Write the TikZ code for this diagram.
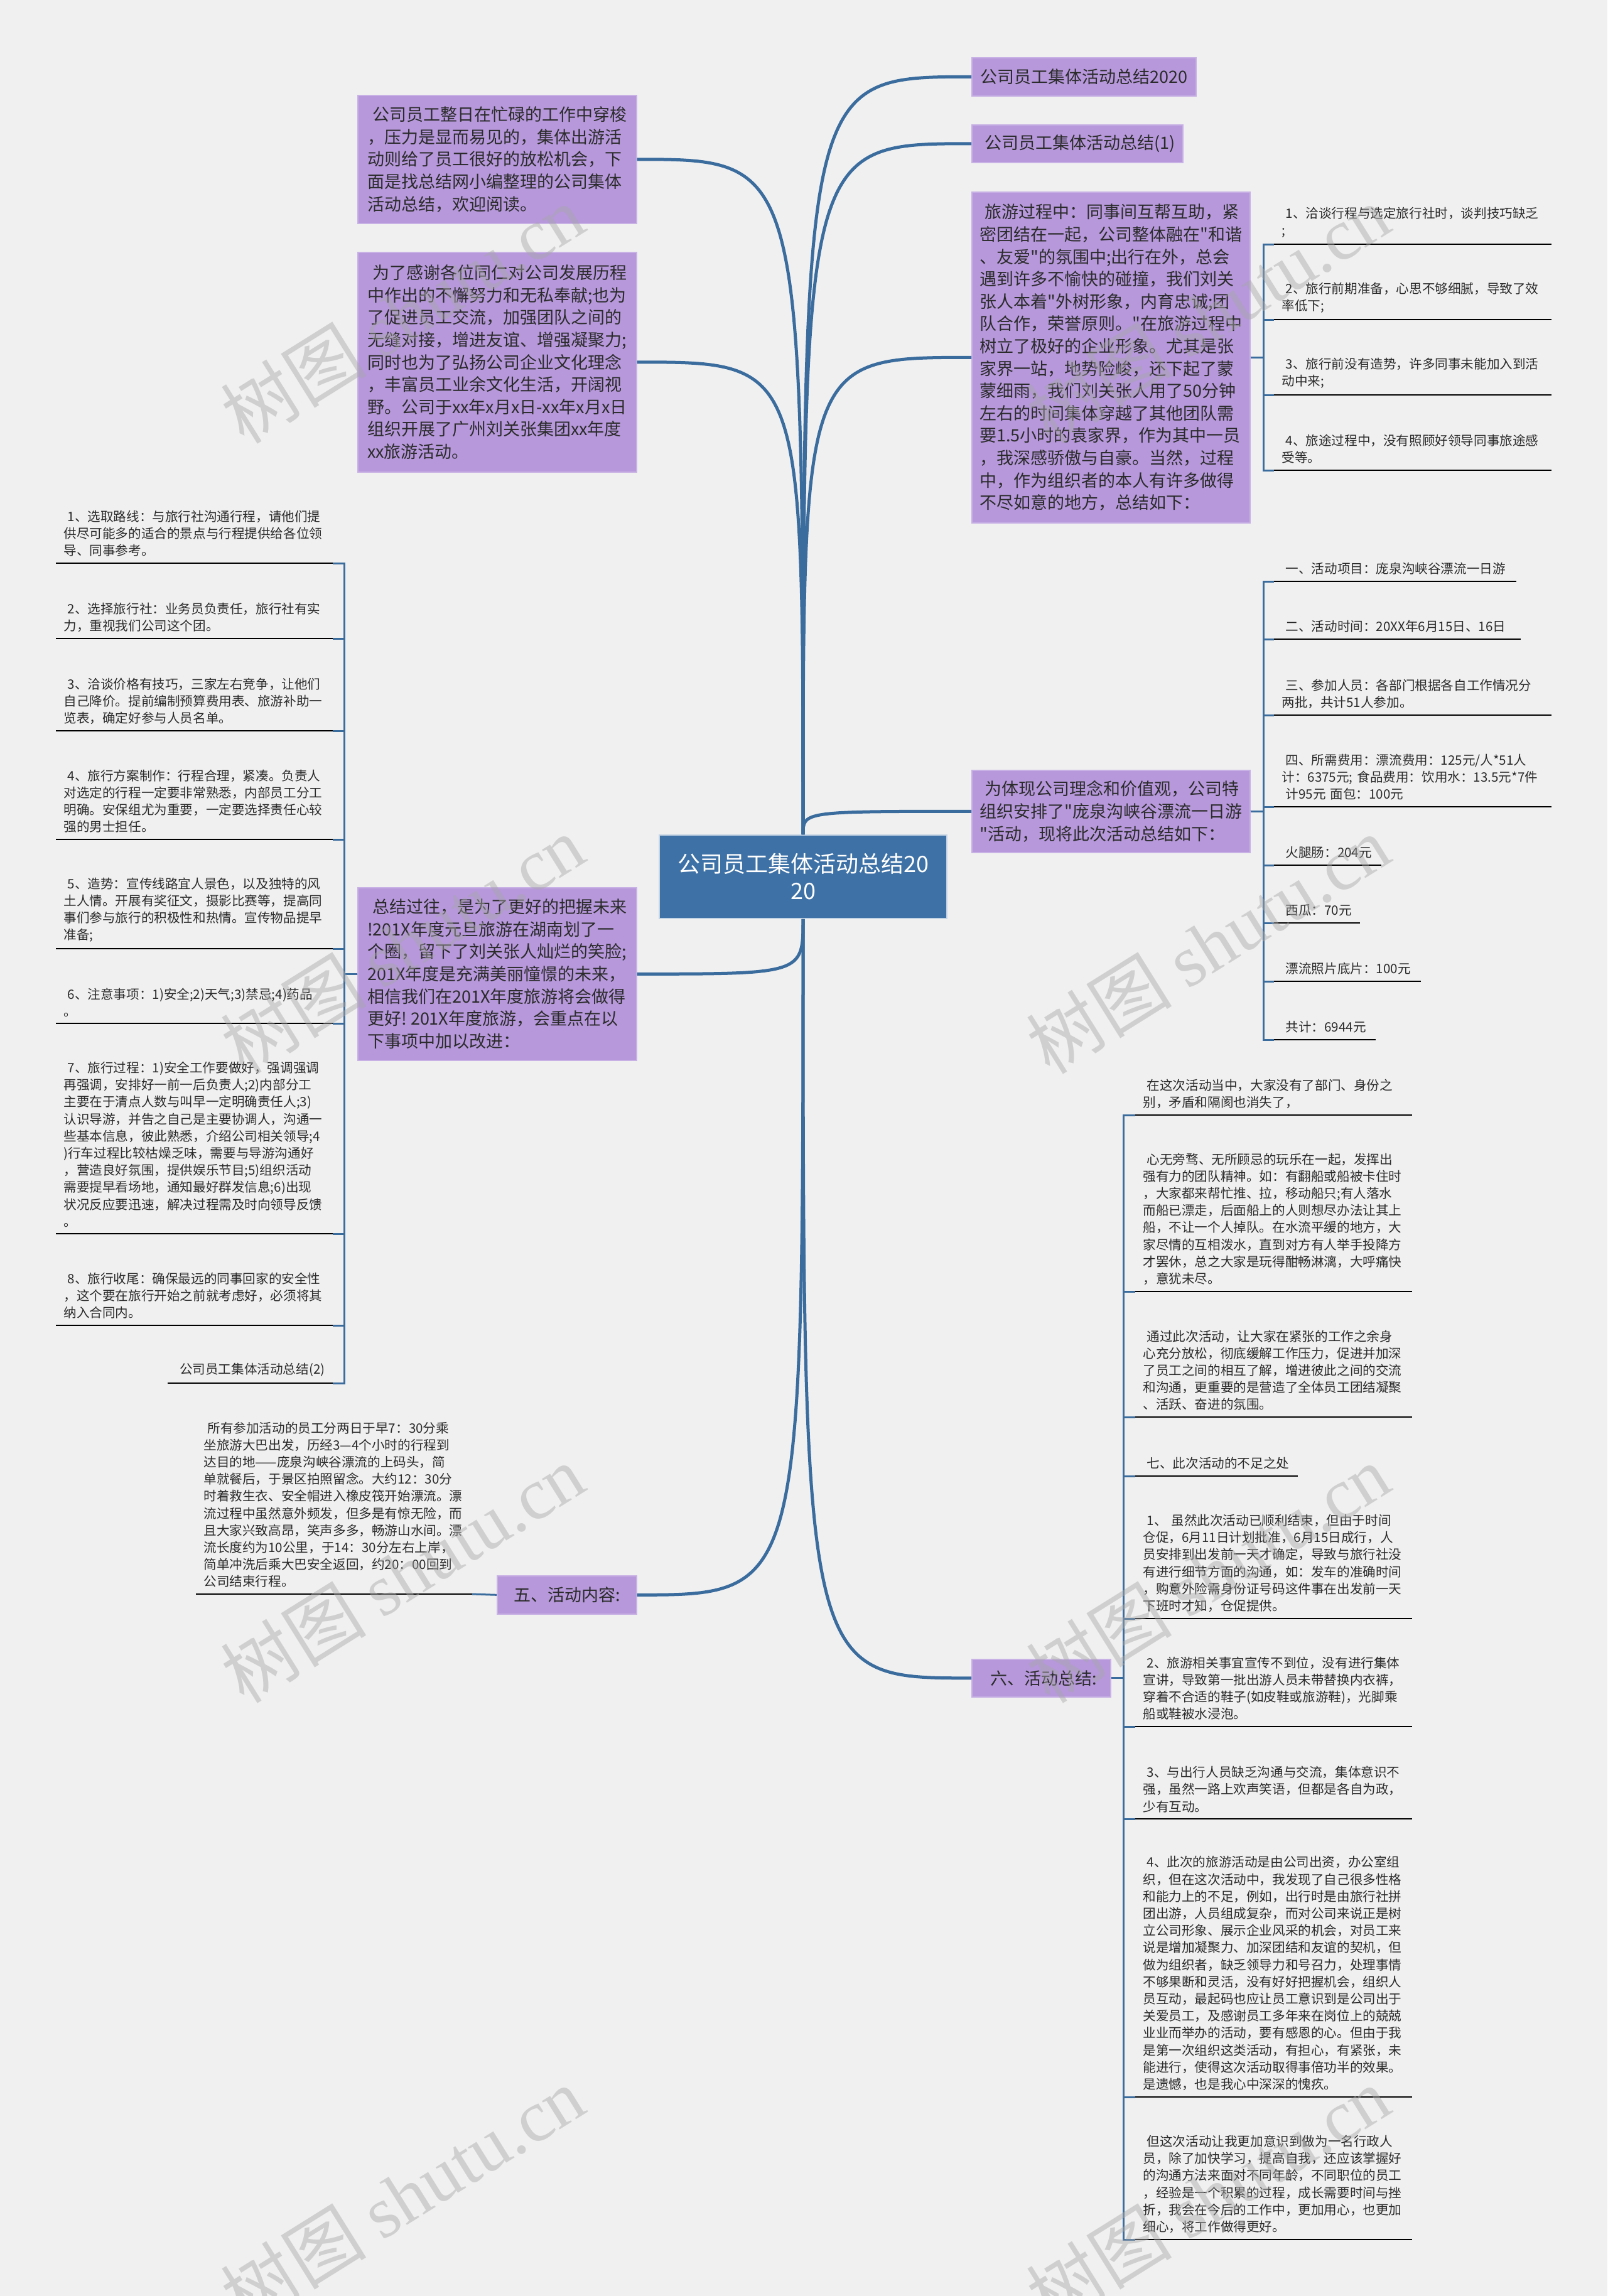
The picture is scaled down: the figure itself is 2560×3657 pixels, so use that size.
\documentclass[tikz,border=0pt]{standalone}
\usepackage{fontspec}
\setmainfont{Noto Sans CJK SC}[Ligatures=TeXOff]
\newfontfamily\wmserif{Liberation Serif}
\usetikzlibrary{calc}
\hyphenpenalty=10000
\exhyphenpenalty=10000
\definecolor{pagebg}{HTML}{F0F0F0}
\definecolor{lilac}{HTML}{B698DB}
\definecolor{lilacedge}{HTML}{C8B1E5}
\definecolor{rootblue}{HTML}{3E71A6}
\definecolor{linkblue}{HTML}{3B6C9E}
\definecolor{ink}{HTML}{2B2B2B}
\definecolor{stamp}{HTML}{A8A8A8}
\newcommand{\lsp}{\hspace*{0.3em}}
\tikzset{
  rootbox/.style={
    fill=rootblue,
    draw=white!70!rootblue,
    line width=0.8pt,
    text=white,
    font=\fontsize{18}{21.5}\selectfont,
    align=center,
    inner sep=0pt
  },
  topicbox/.style={
    anchor=north west,
    fill=lilac,
    draw=lilacedge,
    line width=0.8pt,
    text=ink,
    font=\fontsize{13.5}{17.8}\selectfont,
    align=left,
    inner sep=0pt
  },
  leaf/.style={
    anchor=south west,
    inner xsep=6pt,
    inner ysep=5pt,
    align=left,
    text=ink,
    font=\fontsize{10.3}{13.6}\selectfont
  },
  trunk/.style={draw=linkblue, line width=2.5pt},
  branch/.style={draw=linkblue, line width=1.5pt},
  underline/.style={draw=black, line width=1.3pt},
  stampnote/.style={rotate=32, text=stamp, text opacity=0.45, font=\fontsize{58}{58}\selectfont}
}

\begin{document}
\begin{tikzpicture}[x=0.5pt, y=-0.5pt]
  \useasboundingbox (0,0) rectangle (2560,3657);
  \fill[pagebg] (0,0) rectangle (2560,3657);

  % root
  \node[rootbox, minimum width=229pt, minimum height=66.5pt] (root) at (1279,1396.5)
    {公司员工集体活动总结20\\20};

  % left side topics
  \node[topicbox, minimum width=222pt, minimum height=102pt] (intro1) at (569,151)
    {\lsp 公司员工整日在忙碌的工作中穿梭\\，压力是显而易见的，集体出游活\\动则给了员工很好的放松机会，下\\面是找总结网小编整理的公司集体\\活动总结，欢迎阅读。};
  \node[topicbox, minimum width=222pt, minimum height=175pt] (intro2) at (569,401)
    {\lsp 为了感谢各位同仁对公司发展历程\\中作出的不懈努力和无私奉献;也为\\了促进员工交流，加强团队之间的\\无缝对接，增进友谊、增强凝聚力;\\同时也为了弘扬公司企业文化理念\\，丰富员工业余文化生活，开阔视\\野。公司于xx年x月x日-xx年x月x日\\组织开展了广州刘关张集团xx年度\\xx旅游活动。};
  \node[topicbox, minimum width=222pt, minimum height=137.5pt] (sumbox) at (569,1413)
    {\lsp 总结过往，是为了更好的把握未来\\!201X年度元旦旅游在湖南划了一\\个圈，留下了刘关张人灿烂的笑脸;\\201X年度是充满美丽憧憬的未来，\\相信我们在201X年度旅游将会做得\\更好!~201X年度旅游，会重点在以\\下事项中加以改进：};
  \node[topicbox, minimum width=111pt, minimum height=30.5pt] (wu) at (791,2509)
    {五、活动内容:};

  % right side topics
  \node[topicbox, minimum width=178.5pt, minimum height=30.5pt] (top2020) at (1547,91)
    {公司员工集体活动总结2020};
  \node[topicbox, minimum width=168pt, minimum height=30pt] (top1) at (1547,198)
    {\lsp 公司员工集体活动总结(1)};
  \node[topicbox, minimum width=221.5pt, minimum height=263.5pt] (tripbox) at (1547,305)
    {\lsp 旅游过程中：同事间互帮互助，紧\\密团结在一起，公司整体融在"和谐\\、友爱"的氛围中;出行在外，总会\\遇到许多不愉快的碰撞，我们刘关\\张人本着"外树形象，内育忠诚;团\\队合作，荣誉原则。"在旅游过程中\\树立了极好的企业形象。尤其是张\\家界一站，地势险峻，还下起了蒙\\蒙细雨，我们刘关张人用了50分钟\\左右的时间集体穿越了其他团队需\\要1.5小时的袁家界，作为其中一员\\，我深感骄傲与自豪。当然，过程\\中，作为组织者的本人有许多做得\\不尽如意的地方，总结如下：};
  \node[topicbox, minimum width=221.5pt, minimum height=65.5pt] (ideabox) at (1547,1226)
    {\lsp 为体现公司理念和价值观，公司特\\组织安排了"庞泉沟峡谷漂流一日游\\"活动，现将此次活动总结如下：};
  \node[topicbox, minimum width=110.5pt, minimum height=30pt] (liu) at (1547,2642)
    {\lsp 六、活动总结:};

  % left column leaves
  \node[leaf, text width=208pt] (a1) at (89,897)
    {\lsp 1、选取路线：与旅行社沟通行程，请他们提\\供尽可能多的适合的景点与行程提供给各位领\\导、同事参考。};
  \node[leaf, text width=208pt] (a2) at (89,1017)
    {\lsp 2、选择旅行社：业务员负责任，旅行社有实\\力，重视我们公司这个团。};
  \node[leaf, text width=208pt] (a3) at (89,1164)
    {\lsp 3、洽谈价格有技巧，三家左右竞争，让他们\\自己降价。提前编制预算费用表、旅游补助一\\览表，确定好参与人员名单。};
  \node[leaf, text width=208pt] (a4) at (89,1337)
    {\lsp 4、旅行方案制作：行程合理，紧凑。负责人\\对选定的行程一定要非常熟悉，内部员工分工\\明确。安保组尤为重要，一定要选择责任心较\\强的男士担任。};
  \node[leaf, text width=208pt] (a5) at (89,1511)
    {\lsp 5、造势：宣传线路宜人景色，以及独特的风\\土人情。开展有奖征文，摄影比赛等，提高同\\事们参与旅行的积极性和热情。宣传物品提早\\准备;};
  \node[leaf, text width=208pt] (a6) at (89,1630)
    {\lsp 6、注意事项：1)安全;2)天气;3)禁忌;4)药品\\。};
  \node[leaf, text width=208pt] (a7) at (89,1965)
    {\lsp 7、旅行过程：1)安全工作要做好，强调强调\\再强调，安排好一前一后负责人;2)内部分工\\主要在于清点人数与叫早一定明确责任人;3)\\认识导游，并告之自己是主要协调人，沟通一\\些基本信息，彼此熟悉，介绍公司相关领导;4\\)行车过程比较枯燥乏味，需要与导游沟通好\\，营造良好氛围，提供娱乐节目;5)组织活动\\需要提早看场地，通知最好群发信息;6)出现\\状况反应要迅速，解决过程需及时向领导反馈\\。};
  \node[leaf, text width=208pt] (a8) at (89,2111)
    {\lsp 8、旅行收尾：确保最远的同事回家的安全性\\，这个要在旅行开始之前就考虑好，必须将其\\纳入合同内。};
  \node[leaf, text width=119pt, align=right] (a9) at (267,2203)
    {公司员工集体活动总结(2)};

  % five: activity content
  \node[leaf, text width=207.5pt] (e1) at (312,2539)
    {\lsp 所有参加活动的员工分两日于早7：30分乘\\坐旅游大巴出发，历经3—4个小时的行程到\\达目的地——庞泉沟峡谷漂流的上码头，简\\单就餐后，于景区拍照留念。大约12：30分\\时着救生衣、安全帽进入橡皮筏开始漂流。漂\\流过程中虽然意外频发，但多是有惊无险，而\\且大家兴致高昂，笑声多多，畅游山水间。漂\\流长度约为10公里，于14：30分左右上岸，\\简单冲洗后乘大巴安全返回，约20：00回到\\公司结束行程。};

  % right top leaves
  \node[leaf, text width=208.5pt] (b1) at (2029,389)
    {\lsp 1、洽谈行程与选定旅行社时，谈判技巧缺乏\\;};
  \node[leaf, text width=208.5pt] (b2) at (2029,509)
    {\lsp 2、旅行前期准备，心思不够细腻，导致了效\\率低下;};
  \node[leaf, text width=208.5pt] (b3) at (2029,629)
    {\lsp 3、旅行前没有造势，许多同事未能加入到活\\动中来;};
  \node[leaf, text width=208.5pt] (b4) at (2029,749)
    {\lsp 4、旅途过程中，没有照顾好领导同事旅途感\\受等。};

  % right middle leaves
  \node[leaf, text width=180.5pt] (c1) at (2029,926) {\lsp 一、活动项目：庞泉沟峡谷漂流一日游};
  \node[leaf, text width=184pt] (c2) at (2029,1018) {\lsp 二、活动时间：20XX年6月15日、16日};
  \node[leaf, text width=208.5pt] (c3) at (2029,1139)
    {\lsp 三、参加人员：各部门根据各自工作情况分\\两批，共计51人参加。};
  \node[leaf, text width=208.5pt] (c4) at (2029,1285)
    {\lsp 四、所需费用：漂流费用：125元/人*51人\\计：6375元;~食品费用：饮用水：13.5元*7件\\\lsp 计95元~面包：100元};
  \node[leaf, text width=73pt] (c5) at (2029,1378) {\lsp 火腿肠：204元};
  \node[leaf, text width=56pt] (c6) at (2029,1470) {\lsp 西瓜：70元};
  \node[leaf, text width=104.5pt] (c7) at (2029,1563) {\lsp 漂流照片底片：100元};
  \node[leaf, text width=68.5pt] (c8) at (2029,1656) {\lsp 共计：6944元};

  % bottom right leaves
  \node[leaf, text width=208pt] (d1) at (1808,1776)
    {\lsp 在这次活动当中，大家没有了部门、身份之\\别，矛盾和隔阂也消失了，};
  \node[leaf, text width=208pt] (d2) at (1808,2057)
    {\lsp 心无旁骛、无所顾忌的玩乐在一起，发挥出\\强有力的团队精神。如：有翻船或船被卡住时\\，大家都来帮忙推、拉，移动船只;有人落水\\而船已漂走，后面船上的人则想尽办法让其上\\船，不让一个人掉队。在水流平缓的地方，大\\家尽情的互相泼水，直到对方有人举手投降方\\才罢休，总之大家是玩得酣畅淋漓，大呼痛快\\，意犹未尽。};
  \node[leaf, text width=208pt] (d3) at (1808,2257)
    {\lsp 通过此次活动，让大家在紧张的工作之余身\\心充分放松，彻底缓解工作压力，促进并加深\\了员工之间的相互了解，增进彼此之间的交流\\和沟通，更重要的是营造了全体员工团结凝聚\\、活跃、奋进的氛围。};
  \node[leaf, text width=117pt] (d4) at (1808,2351) {\lsp 七、此次活动的不足之处};
  \node[leaf, text width=208pt] (d5) at (1808,2578)
    {\lsp 1、~虽然此次活动已顺利结束，但由于时间\\仓促，6月11日计划批准，6月15日成行，人\\员安排到出发前一天才确定，导致与旅行社没\\有进行细节方面的沟通，如：发车的准确时间\\，购意外险需身份证号码这件事在出发前一天\\下班时才知，仓促提供。};
  \node[leaf, text width=208pt] (d6) at (1808,2750)
    {\lsp 2、旅游相关事宜宣传不到位，没有进行集体\\宣讲，导致第一批出游人员未带替换内衣裤，\\穿着不合适的鞋子(如皮鞋或旅游鞋)，光脚乘\\船或鞋被水浸泡。};
  \node[leaf, text width=208pt] (d7) at (1808,2897)
    {\lsp 3、与出行人员缺乏沟通与交流，集体意识不\\强，虽然一路上欢声笑语，但都是各自为政，\\少有互动。};
  \node[leaf, text width=208pt] (d8) at (1808,3340)
    {\lsp 4、此次的旅游活动是由公司出资，办公室组\\织，但在这次活动中，我发现了自己很多性格\\和能力上的不足，例如，出行时是由旅行社拼\\团出游，人员组成复杂，而对公司来说正是树\\立公司形象、展示企业风采的机会，对员工来\\说是增加凝聚力、加深团结和友谊的契机，但\\做为组织者，缺乏领导力和号召力，处理事情\\不够果断和灵活，没有好好把握机会，组织人\\员互动，最起码也应让员工意识到是公司出于\\关爱员工，及感谢员工多年来在岗位上的兢兢\\业业而举办的活动，要有感恩的心。但由于我\\是第一次组织这类活动，有担心，有紧张，未\\能进行，使得这次活动取得事倍功半的效果。\\是遗憾，也是我心中深深的愧疚。};
  \node[leaf, text width=208pt] (d9) at (1808,3567)
    {\lsp 但这次活动让我更加意识到做为一名行政人\\员，除了加快学习，提高自我，还应该掌握好\\的沟通方法来面对不同年龄，不同职位的员工\\，经验是一个积累的过程，成长需要时间与挫\\折，我会在今后的工作中，更加用心，也更加\\细心，将工作做得更好。};

  % curves from the root
  \draw[trunk] (root.north) .. controls (root.north |- intro1.east) and (root.north |- intro1.east) .. (intro1.east);
  \draw[trunk] (root.north) .. controls (root.north |- intro2.east) and (root.north |- intro2.east) .. (intro2.east);
  \draw[trunk] (root.north) .. controls (root.north |- top2020.west) and (root.north |- top2020.west) .. (top2020.west);
  \draw[trunk] (root.north) .. controls (root.north |- top1.west) and (root.north |- top1.west) .. (top1.west);
  \draw[trunk] (root.north) .. controls (root.north |- tripbox.west) and (root.north |- tripbox.west) .. (tripbox.west);
  \draw[trunk] (root.north) .. controls (root.north |- ideabox.west) and (root.north |- ideabox.west) .. (ideabox.west);
  \draw[trunk] (root.south) .. controls (root.south |- sumbox.east) and (root.south |- sumbox.east) .. (sumbox.east);
  \draw[trunk] (root.south) .. controls (root.south |- wu.east) and (root.south |- wu.east) .. (wu.east);
  \draw[trunk] (root.south) .. controls (root.south |- liu.west) and (root.south |- liu.west) .. (liu.west);

  % brackets
  \coordinate (lb) at ([xshift=-10.5pt]sumbox.west);
  \coordinate (rb1) at ([xshift=10.5pt]tripbox.east);
  \coordinate (rb2) at ([xshift=10.5pt]ideabox.east);
  \coordinate (rb3) at ([xshift=10pt]liu.east);
  \foreach \n in {a1,a2,a3,a4,a5,a6,a7,a8,a9}
    \draw[branch] (sumbox.west) -- (lb) |- (\n.south east);
  \foreach \n in {b1,b2,b3,b4}
    \draw[branch] (tripbox.east) -- (rb1) |- (\n.south west);
  \foreach \n in {c1,c2,c3,c4,c5,c6,c7,c8}
    \draw[branch] (ideabox.east) -- (rb2) |- (\n.south west);
  \foreach \n in {d1,d2,d3,d4,d5,d6,d7,d8,d9}
    \draw[branch] (liu.east) -- (rb3) |- (\n.south west);
  \draw[branch] (wu.west) -- (e1.south east);

  % underlines
  \foreach \n in {a1,a2,a3,a4,a5,a6,a7,a8,a9,b1,b2,b3,b4,c1,c2,c3,c4,c5,c6,c7,c8,d1,d2,d3,d4,d5,d6,d7,d8,d9,e1}
    \draw[underline] (\n.south west) -- (\n.south east);

  % stamps
  \node[stampnote] (wm1) at (641,500) {树图 {\wmserif shutu.cn}};
  \node[stampnote] (wm2) at (1924,500) {树图 {\wmserif shutu.cn}};
  \node[stampnote] (wm3) at (641,1504) {树图 {\wmserif shutu.cn}};
  \node[stampnote] (wm4) at (1924,1504) {树图 {\wmserif shutu.cn}};
  \node[stampnote] (wm5) at (641,2506) {树图 {\wmserif shutu.cn}};
  \node[stampnote] (wm6) at (1924,2506) {树图 {\wmserif shutu.cn}};
  \node[stampnote] (wm7) at (641,3497) {树图 {\wmserif shutu.cn}};
  \node[stampnote] (wm8) at (1924,3497) {树图 {\wmserif shutu.cn}};
\end{tikzpicture}
\end{document}
